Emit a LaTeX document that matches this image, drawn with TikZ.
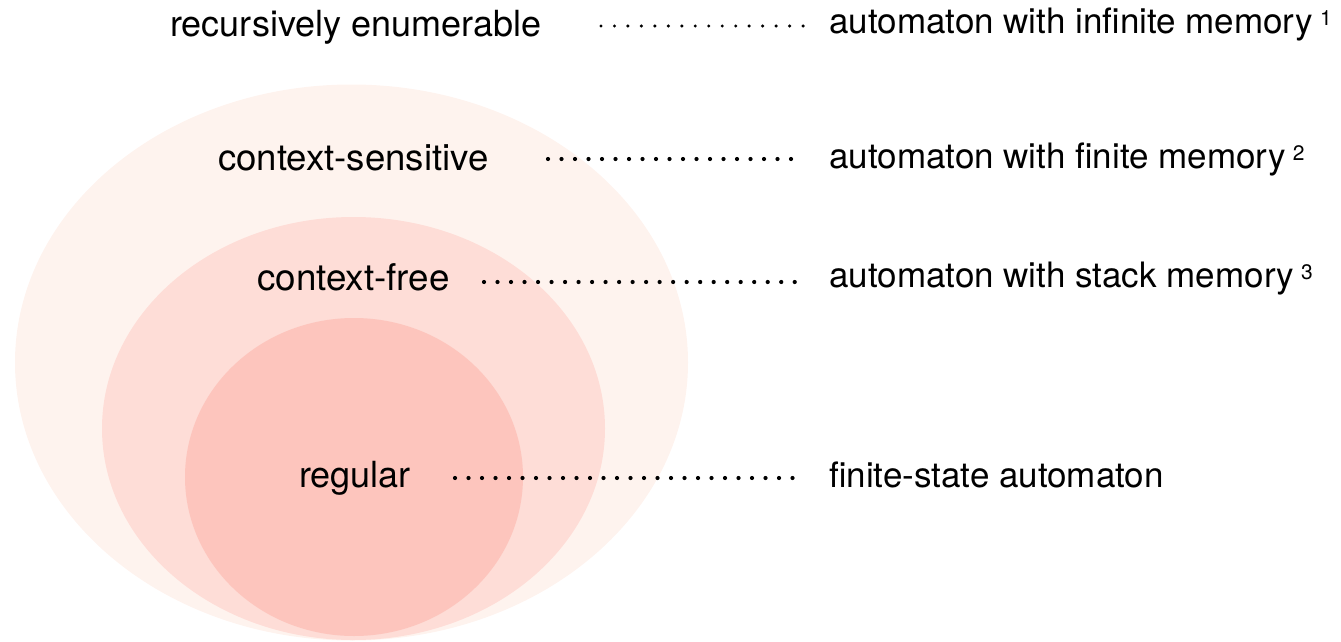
\documentclass[tikz,border=0pt]{standalone}
\usepackage{fontspec}
\setmainfont{TeX Gyre Heros}
\definecolor{csfill}{RGB}{254,243,238}
\definecolor{cffill}{RGB}{254,221,215}
\definecolor{regfill}{RGB}{253,197,189}
\tikzset{
  lefttext/.style={anchor=base west, inner sep=0pt, font=\fontsize{36}{40}\selectfont},
  righttext/.style={anchor=base west, inner sep=0pt, font=\fontsize{35}{40}\selectfont},
  dotrow/.style={line width=4.2pt, line cap=round, dash pattern=on 0pt off 13.5pt},
  dotrowsmall/.style={line width=3.4pt, line cap=round, dash pattern=on 0pt off 13.47pt}
}
\newcommand{\supnum}[1]{\hspace{7pt}\raisebox{8pt}{\fontsize{21}{21}\selectfont #1}}
\begin{document}
\begin{tikzpicture}[x=1pt,y=-1pt]
\useasboundingbox (0,0) rectangle (1341,642);
% nested sets
\fill[csfill] (351.5,362.5) ellipse [x radius=336.5pt, y radius=278pt];
\fill[cffill] (353.5,428.5) ellipse [x radius=251.5pt, y radius=211.5pt];
\fill[regfill] (354,477) ellipse [x radius=169pt, y radius=159pt];
% left labels
\node[lefttext] (re) at (170,37) {recursively enumerable};
\node[lefttext, font=\fontsize{36.6}{40}\selectfont] (cs) at (218,170) {context-sensitive};
\node[lefttext, font=\fontsize{36.8}{40}\selectfont] (cf) at (257,290) {context-free};
\node[lefttext] (rg) at (299,487) {regular};
% right labels
\node[righttext] (are) at (829,34) {automaton with infinite memory\supnum{1}};
\node[righttext] (acs) at (829,168) {automaton with finite memory\supnum{2}};
\node[righttext] (acf) at (829,287) {automaton with stack memory\supnum{3}};
\node[righttext] (arg) at (829,487) {finite-state automaton};
% dotted connectors
\coordinate (d1s) at (601,26);  \coordinate (d1e) at (803.5,26);
\coordinate (d2s) at (548,159); \coordinate (d2e) at (791.5,159);
\coordinate (d3s) at (484,282); \coordinate (d3e) at (795,282);
\coordinate (d4s) at (455,478); \coordinate (d4e) at (793,478);
\draw[dotrowsmall] (d1s) -- (d1e);
\draw[dotrow] (d2s) -- (d2e);
\draw[dotrow, dash pattern=on 0pt off 13.51pt] (d3s) -- (d3e);
\draw[dotrow] (d4s) -- (d4e);
\end{tikzpicture}
\end{document}
